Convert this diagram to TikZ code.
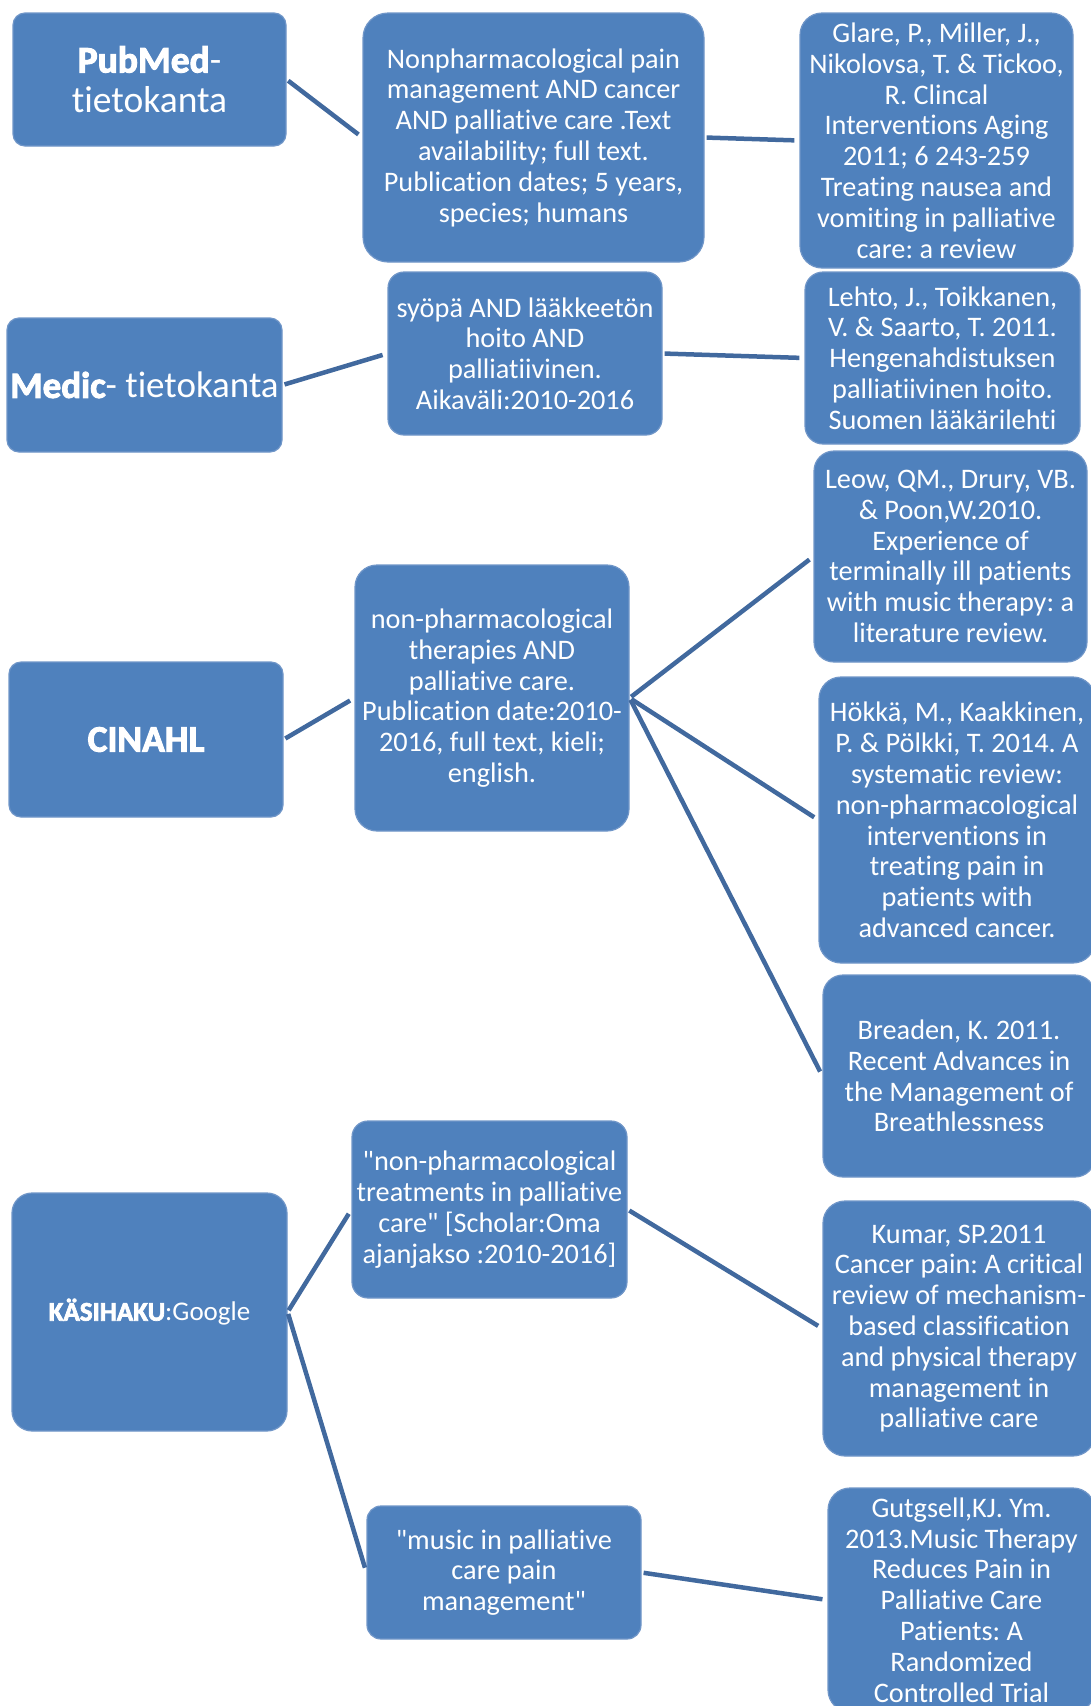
\documentclass[tikz,border=0pt]{standalone}
\usepackage{fontspec}
\setmainfont{Carlito}[Ligatures=NoCommon]
\newfontfamily\bodyfont{Carlito}[Ligatures=NoCommon]
\newfontfamily\heavyfont[FakeBold=2.6]{Carlito Bold}
\definecolor{boxfill}{HTML}{4F81BD}
\definecolor{boxedge}{HTML}{7096C8}
\definecolor{linkcol}{HTML}{41699E}
\tikzset{
  box/.style={rectangle, rounded corners=#1, fill=boxfill, draw=boxedge, line width=1.2pt,
    text=white, align=center, inner sep=0pt,
    font=\bodyfont\fontsize{28.3}{30.8}\selectfont},
  box/.default=20pt,
  link/.style={draw=linkcol, line width=4.5pt, shorten <=2pt, shorten >=5pt},
}
\newcommand{\heavy}[1]{{\heavyfont #1}}
\frenchspacing
\begin{document}
\begin{tikzpicture}[x=1pt,y=1pt]
\useasboundingbox (0,0) rectangle (1091,-1706);
\begin{scope}
\clip (0,0) rectangle (1091,-1706);
% left column
\node[box=12pt, minimum width=273pt, minimum height=133pt, font=\fontsize{37.5}{40}\selectfont] (pub) at (149.5,-79.5) {\heavy{PubMed}-\\tietokanta};
\node[box=12pt, minimum width=275pt, minimum height=134pt, font=\fontsize{37}{40}\selectfont] (medic) at (144.5,-385) {\heavy{Medic}- tietokanta};
\node[box=12pt, minimum width=274pt, minimum height=155pt, font=\fontsize{37.5}{40}\selectfont] (cinahl) at (146,-739.5) {\heavy{CINAHL}};
\node[box=20pt, minimum width=275pt, minimum height=238pt, font=\fontsize{27}{32}\selectfont] (kasi) at (149.5,-1312) {\heavy{KÄSIHAKU}:Google};
% middle column
\node[box=25pt, minimum width=341pt, minimum height=249pt] (q1) at (533.5,-137.5) {Nonpharmacological pain\\management AND cancer\\AND palliative care .Text\\availability; full text.\\Publication dates; 5 years,\\species; humans};
\node[box=16pt, minimum width=274pt, minimum height=163pt] (q2) at (525,-353.5) {syöpä AND lääkkeetön\\hoito AND\\palliatiivinen.\\Aikaväli:2010-2016};
\node[box=22pt, minimum width=274pt, minimum height=266pt] (q3) at (492,-698) {non-pharmacological\\therapies AND\\palliative care.\\Publication date:2010-\\2016, full text, kieli;\\english.};
\node[box=16pt, minimum width=275pt, minimum height=177pt] (q4) at (489.5,-1209.5) {"non-pharmacological\\treatments in palliative\\care" [Scholar:Oma\\ajanjakso :2010-2016]};
\node[box=14pt, minimum width=274pt, minimum height=133pt] (q5) at (504,-1572.5) {"music in palliative\\care pain\\management"};
% right column
\node[box=22pt, minimum width=273pt, minimum height=255pt] (glare) at (936.5,-140.5) {Glare, P., Miller, J.,\\Nikolovsa, T. \& Tickoo,\\R. Clincal\\Interventions Aging\\2011; 6 243-259\\Treating nausea and\\vomiting in palliative\\care: a review};
\node[box=18pt, minimum width=275pt, minimum height=172pt] (lehto) at (942.5,-358) {Lehto, J., Toikkanen,\\V. \& Saarto, T. 2011.\\Hengenahdistuksen\\palliatiivinen hoito.\\Suomen lääkärilehti};
\node[box=20pt, minimum width=273pt, minimum height=211pt] (leow) at (950.5,-556.5) {Leow, QM., Drury, VB.\\\& Poon,W.2010.\\Experience of\\terminally ill patients\\with music therapy: a\\literature review.};
\node[box=22pt, minimum width=276pt, minimum height=286pt] (hokka) at (957,-820) {Hökkä, M., Kaakkinen,\\P. \& Pölkki, T. 2014. A\\systematic review:\\non-pharmacological\\interventions in\\treating pain in\\patients with\\advanced cancer.};
\node[box=20pt, minimum width=272pt, minimum height=202pt] (breaden) at (959,-1076) {Breaden, K. 2011.\\Recent Advances in\\the Management of\\Breathlessness};
\node[box=22pt, minimum width=272pt, minimum height=255pt] (kumar) at (959,-1328.5) {Kumar, SP.2011\\Cancer pain: A critical\\review of mechanism-\\based classification\\and physical therapy\\management in\\palliative care};
\node[box=22pt, minimum width=267pt, minimum height=224pt] (gut) at (961.5,-1600) {Gutgsell,KJ. Ym.\\2013.Music Therapy\\Reduces Pain in\\Palliative Care\\Patients: A\\Randomized\\Controlled Trial};
% connectors
\draw[link] (pub.east) -- (q1.west);
\draw[link] (q1.east) -- (glare.west);
\draw[link] (medic.east) -- (q2.west);
\draw[link] (q2.east) -- (lehto.west);
\draw[link] (cinahl.east) -- (q3.west);
\draw[link] (q3.east) -- (leow.west);
\draw[link] (q3.east) -- (hokka.west);
\draw[link] (q3.east) -- (breaden.west);
\draw[link] (kasi.east) -- (q4.west);
\draw[link] (kasi.east) -- (q5.west);
\draw[link] (q4.east) -- (kumar.west);
\draw[link] (q5.east) -- (gut.west);
\end{scope}
\end{tikzpicture}
\end{document}
